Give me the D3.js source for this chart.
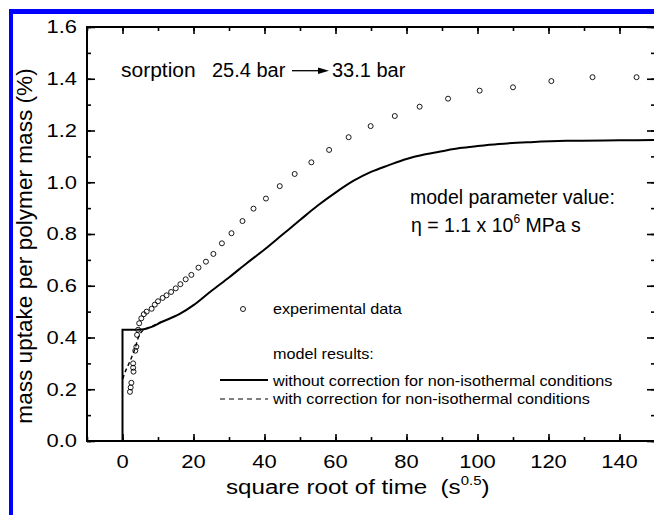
<!DOCTYPE html>
<html>
<head>
<meta charset="utf-8">
<script src="https://cdn.jsdelivr.net/npm/d3@7"></script>
<style>
  body { margin: 0; background: #fff; }
  svg { display: block; font-family: "Liberation Sans", Arial, sans-serif; }
</style>
</head>
<body>
<svg id="chart" width="654" height="515"></svg>
<script>
// experimental data (square root of time, mass uptake %)
let expX = [2.1, 2.3, 2.5, 3.1, 3.0, 3.0, 3.6, 3.9, 4.1, 4.4, 4.7, 5.3, 6.0, 6.8, 8.2, 9.1, 10.0, 11.3, 12.4, 13.7,
            15.0, 16.3, 17.8, 19.4, 21.4, 23.5, 25.6, 28.0, 30.7, 33.8, 36.9, 40.4, 44.3, 48.5, 53.2, 58.2, 63.7,
            69.9, 76.7, 83.7, 91.7, 100.6, 110.0, 120.8, 132.4, 144.8];
let expY = [0.190, 0.207, 0.225, 0.268, 0.283, 0.300, 0.349, 0.364, 0.41, 0.43, 0.455, 0.474, 0.490, 0.500, 0.511,
            0.527, 0.540, 0.553, 0.563, 0.576, 0.590, 0.606, 0.625, 0.642, 0.670, 0.693, 0.723, 0.764, 0.803, 0.850,
            0.898, 0.937, 0.985, 1.032, 1.077, 1.125, 1.174, 1.217, 1.256, 1.292, 1.323, 1.354, 1.367, 1.391, 1.406, 1.406];

// model without correction
let modelX = [0, 0, 4, 6, 8, 11, 16, 20, 25, 30, 35, 40, 45, 50, 55, 60, 65, 70, 75, 80, 85, 90, 95, 100, 106, 115, 125, 140, 150];
let modelY = [0, 0.43, 0.43, 0.432, 0.44, 0.46, 0.49, 0.525, 0.58, 0.632, 0.687, 0.74, 0.797, 0.854, 0.91, 0.96, 1.005,
              1.04, 1.066, 1.09, 1.107, 1.12, 1.132, 1.14, 1.148, 1.155, 1.16, 1.162, 1.163];

// model with correction (only differs at the start)
let corrX = [0.1, 0.6, 1.5, 2.3, 3.0, 3.6, 4.2, 4.8, 5.6, 6.5, 8, 11];
let corrY = [0.24, 0.262, 0.29, 0.315, 0.338, 0.36, 0.39, 0.41, 0.425, 0.433, 0.442, 0.46];

let xMajor = [0, 20, 40, 60, 80, 100, 120, 140];
let yMajor = [0.0, 0.2, 0.4, 0.6, 0.8, 1.0, 1.2, 1.4, 1.6];

const svg = d3.select("#chart");
const pLeft = 87, pRight = 655, pTop = 27, pBottom = 441;

let x = d3.scaleLinear().domain([-10, 150]).range([pLeft, pRight]);
let y = d3.scaleLinear().domain([0, 1.6]).range([pBottom, pTop]);

// blue frame of the figure
svg.append("rect").attr("x", 9).attr("y", 9).attr("width", 4).attr("height", 506).attr("fill", "#0000ff");
svg.append("rect").attr("x", 9).attr("y", 9).attr("width", 645).attr("height", 5).attr("fill", "#0000ff");

// stretched text helper (the original figure is a bit wider than tall)
function label(px, py, str, fs, sx, anchor) {
    return svg.append("text")
        .attr("transform", `translate(${px},${py}) scale(${sx},1)`)
        .attr("font-size", fs)
        .attr("text-anchor", anchor || "start")
        .attr("fill", "#000")
        .style("white-space", "pre")
        .text(str);
}

// ticks (inward, on all four sides)
let xMinor = d3.range(-10, 151, 10);
let yMinor = d3.range(0, 1.61, 0.1);

svg.append("g").attr("transform", `translate(0,${pBottom})`)
    .call(d3.axisBottom(x).tickValues(xMinor).tickSizeInner(-4).tickSizeOuter(0).tickFormat(""));
svg.append("g").attr("transform", `translate(0,${pBottom})`)
    .call(d3.axisBottom(x).tickValues(xMajor).tickSizeInner(-7).tickSizeOuter(0).tickFormat(""));
svg.append("g").attr("transform", `translate(0,${pTop})`)
    .call(d3.axisTop(x).tickValues(xMinor).tickSizeInner(-4).tickSizeOuter(0).tickFormat(""));
svg.append("g").attr("transform", `translate(0,${pTop})`)
    .call(d3.axisTop(x).tickValues(xMajor).tickSizeInner(-7).tickSizeOuter(0).tickFormat(""));
svg.append("g").attr("transform", `translate(${pLeft},0)`)
    .call(d3.axisLeft(y).tickValues(yMinor).tickSizeInner(-4).tickSizeOuter(0).tickFormat(""));
svg.append("g").attr("transform", `translate(${pLeft},0)`)
    .call(d3.axisLeft(y).tickValues(yMajor).tickSizeInner(-8).tickSizeOuter(0).tickFormat(""));
svg.append("g").attr("transform", `translate(${pRight},0)`)
    .call(d3.axisRight(y).tickValues(yMinor).tickSizeInner(-4).tickSizeOuter(0).tickFormat(""));
svg.append("g").attr("transform", `translate(${pRight},0)`)
    .call(d3.axisRight(y).tickValues(yMajor).tickSizeInner(-8).tickSizeOuter(0).tickFormat(""));
svg.selectAll(".domain").remove();
svg.selectAll(".tick line").attr("stroke", "#000").attr("stroke-width", 1.6);

svg.append("rect")
    .attr("x", pLeft).attr("y", pTop).attr("width", pRight - pLeft).attr("height", pBottom - pTop)
    .attr("fill", "none").attr("stroke", "#000").attr("stroke-width", 2);

// tick labels
xMajor.forEach(v => label(x(v), 468, d3.format("d")(v), 18, 1.22, "middle"));
yMajor.forEach(v => label(77, y(v) + 6.3, d3.format(".1f")(v), 18, 1.22, "end"));

// axis titles
let xt = label(226, 494, "square root of time  (s", 21, 1.15, "start");
xt.append("tspan").attr("font-size", 13).attr("dy", -9).text("0.5");
xt.append("tspan").attr("dy", 9).text(")");

svg.append("text")
    .attr("transform", "translate(32,246) rotate(-90)")
    .attr("font-size", 22.6).attr("text-anchor", "middle")
    .text("mass uptake per polymer mass (%)");

// model lines
let pts = modelX.map((d, i) => [d, modelY[i]]);
let corr = corrX.map((d, i) => [d, corrY[i]]);
let line = d3.line().x(d => x(d[0])).y(d => y(d[1]));

svg.append("path").datum(pts.slice(0, 3))
    .attr("d", line).attr("fill", "none").attr("stroke", "#000").attr("stroke-width", 2);
svg.append("path").datum(pts.slice(2))
    .attr("d", line.curve(d3.curveMonotoneX)).attr("fill", "none").attr("stroke", "#000").attr("stroke-width", 2);
svg.append("path").datum(corr)
    .attr("d", line.curve(d3.curveMonotoneX)).attr("fill", "none").attr("stroke", "#000")
    .attr("stroke-width", 1.4).attr("stroke-dasharray", "4,3");

// experimental points
svg.append("g").selectAll("circle")
    .data(expX.map((d, i) => [d, expY[i]]))
    .join("circle")
    .attr("cx", d => x(d[0])).attr("cy", d => y(d[1])).attr("r", 2.5)
    .attr("fill", "none").attr("stroke", "#000").attr("stroke-width", 0.9);

// annotations
label(121, 77, "sorption", 20, 1.05);
label(212, 77, "25.4 bar", 20, 1.0);
svg.append("line").attr("x1", 292).attr("x2", 320).attr("y1", 70.7).attr("y2", 70.7)
    .attr("stroke", "#000").attr("stroke-width", 1.3);
svg.append("path").attr("d", "M318,67.5 L329,70.7 L318,73.9 Z").attr("fill", "#000");
label(332, 77, "33.1 bar", 20, 1.0);

label(410, 204, "model parameter value:", 19.5, 1.0);
let eta = label(411, 232, "η = 1.1 x 10", 19.5, 1.0);
eta.append("tspan").attr("font-size", 12).attr("dy", -9).text("6");
eta.append("tspan").attr("dy", 9).text(" MPa s");

// legend
svg.append("circle").attr("cx", 243).attr("cy", 309).attr("r", 2.5)
    .attr("fill", "none").attr("stroke", "#000").attr("stroke-width", 0.9);
label(273, 314, "experimental data", 15, 1.08);
label(273, 359, "model results:", 15, 1.08);
svg.append("line").attr("x1", 220).attr("x2", 268).attr("y1", 380).attr("y2", 380)
    .attr("stroke", "#000").attr("stroke-width", 2);
label(273, 386, "without correction for non-isothermal conditions", 15, 1.08);
svg.append("line").attr("x1", 220).attr("x2", 268).attr("y1", 399).attr("y2", 399)
    .attr("stroke", "#000").attr("stroke-width", 1.2).attr("stroke-dasharray", "5,4");
label(273, 404, "with correction for non-isothermal conditions", 15, 1.08);
</script>
</body>
</html>
